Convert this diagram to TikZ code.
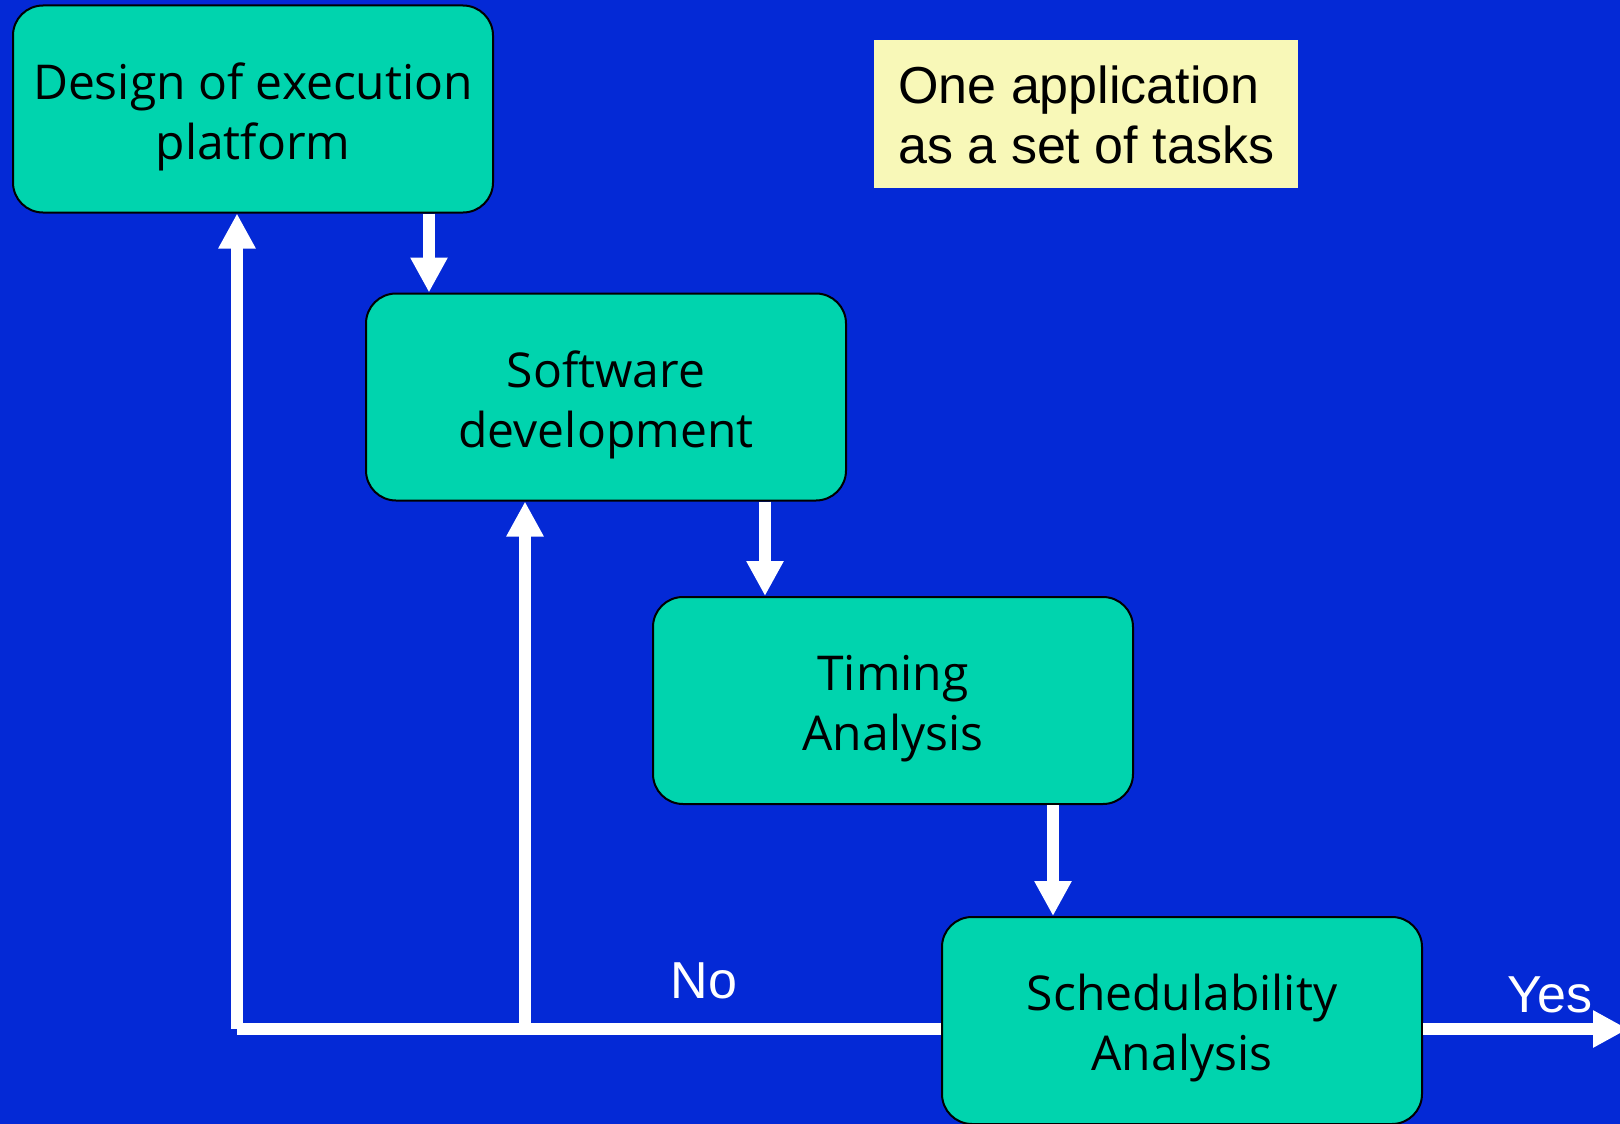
\documentclass[tikz,border=0pt]{standalone}
\usepackage{fontspec}
\setmainfont{Liberation Sans}
\newfontfamily\boxfont{Open Sans}
\usetikzlibrary{arrows.meta}
\definecolor{slideblue}{RGB}{4,41,214}
\definecolor{stagefill}{RGB}{0,212,174}
\definecolor{notefill}{RGB}{248,248,184}
\begin{document}
\begin{tikzpicture}[x=1pt,y=-1pt,
  stage/.style={draw=black, line width=2pt, fill=stagefill, rounded corners=30pt,
    minimum width=480pt, minimum height=207pt, align=center, inner sep=0pt,
    font=\boxfont\fontsize{48}{60}\selectfont,
    % fixed text box so both lines sit a little below the centre
    text height=100pt, text depth=0pt},
  flow/.style={draw=white, line width=12pt, -{Triangle[width=35pt,length=35pt]}},
  bar/.style={draw=white, line width=12pt},
  tag/.style={text=white, font=\fontsize{52}{60}\selectfont, inner sep=0pt, anchor=base}]
  % slide background
  \fill[slideblue] (0,0) rectangle (1620,1124);
  \useasboundingbox (0,0) rectangle (1620,1124);

  % process stages
  \node[stage] (design) at (253,109)    {Design of execution\\platform};
  \node[stage] (soft)   at (606,397)    {Software\\development};
  \node[stage] (timing) at (893,700.5)  {Timing\\Analysis};
  \node[stage] (sched)  at (1182,1020.5){Schedulability\\Analysis};

  % note
  \node[fill=notefill, anchor=north west, minimum width=424pt, minimum height=148pt,
        inner xsep=19pt, inner ysep=0pt, align=left,
        text height=98pt, text depth=0pt,
        font=\fontsize{52}{60}\selectfont] (note) at (874,40)
        {One application\\as a set of tasks};

  % vertical positions of the connectors
  \coordinate (c1) at (429,0);
  \coordinate (c2) at (765,0);
  \coordinate (c3) at (1053,0);
  \coordinate (back1) at (237,1029);
  \coordinate (back2) at (525,1029);
  \coordinate (out) at (1628,1029);

  % forward flow
  \draw[flow] (design.south -| c1) -- (soft.north -| c1);
  \draw[flow] (soft.south -| c2) -- (timing.north -| c2);
  \draw[flow] (timing.south -| c3) -- (sched.north -| c3);

  % feedback on failure
  \draw[bar] (sched.west |- back1) -- (back1);
  \draw[flow] (back1) -- (design.south -| back1);
  \draw[flow] (back2) -- (soft.south -| back2);

  % success exit
  \draw[flow] (sched.east |- out) -- (out);

  \node[tag] (no)  at (704,998) {No};
  \node[tag] (yes) at (1550,1012) {Yes};
\end{tikzpicture}
\end{document}
